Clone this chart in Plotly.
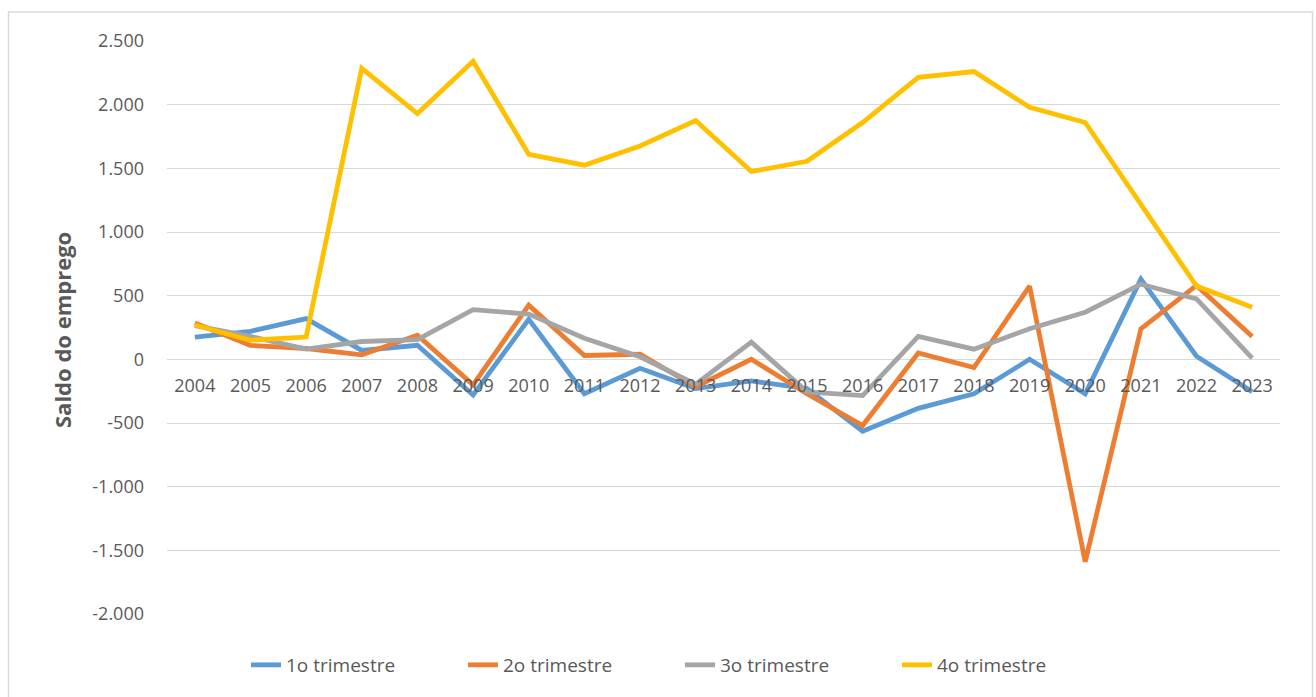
import plotly.graph_objects as go

years = [str(y) for y in range(2004, 2024)]
tri1 = [175, 220, 320, 70, 110, -280, 315, -270, -70, -230, -170, -230, -565, -385, -270, 0, -270, 630, 25, -255]
tri2 = [285, 110, 85, 35, 190, -200, 425, 30, 40, -215, 0, -270, -520, 50, -65, 575, -1590, 240, 580, 180]
tri3 = [265, 180, 80, 140, 155, 390, 355, 165, 20, -195, 135, -255, -285, 180, 80, 240, 370, 590, 475, 10]
tri4 = [270, 150, 175, 2285, 1930, 2340, 1610, 1525, 1675, 1875, 1475, 1555, 1860, 2215, 2260, 1980, 1860, 1220, 575, 410]
series_names = ["1o trimestre", "2o trimestre", "3o trimestre", "4o trimestre"]
colors = ["#5B9BD5", "#ED7D31", "#A5A5A5", "#FFC000"]
ytick_vals = [2500, 2000, 1500, 1000, 500, 0, -500, -1000, -1500, -2000]
ytick_text = ["2.500", "2.000", "1.500", "1.000", "500", "0", "-500", "-1.000", "-1.500", "-2.000"]
y_title = "Saldo do emprego"

FONT = "Open Sans"
fig = go.Figure()
for name, vals, c in zip(series_names, [tri1, tri2, tri3, tri4], colors):
    fig.add_trace(go.Scatter(x=years, y=vals, mode="lines", name=name,
                             line=dict(color=c, width=4.8)))

OFF = 0  # body margin removed via post_script
W, H = 1316, 697
# plot area in screen coords: x 167..1280, y 41..614
L = 167 - OFF
T = 41 - OFF
R = W - (1280 - OFF)
B = H - (614 - OFF)
pw, ph = W - L - R, H - T - B

def px(x):
    return (x - OFF - L) / pw

def py(y):
    return (H - B - (y - OFF)) / ph

fig.update_layout(
    width=W, height=H,
    margin=dict(l=L, r=R, t=T, b=B, autoexpand=False),
    paper_bgcolor="white", plot_bgcolor="white",
    font=dict(family=FONT, color="#595959", size=18),
    showlegend=True,
    legend=dict(orientation="h", x=px(246), xanchor="left", y=py(665), yanchor="middle",
                font=dict(size=19, color="#595959"), itemwidth=30, tracegroupgap=0,
                entrywidth=172, entrywidthmode="pixels"),
    xaxis=dict(type="category", range=[-0.5, 19.5], showgrid=False, zeroline=False,
               showline=False, ticks="", anchor="free", position=py(359),
               ticklabelstandoff=14,
               automargin=False, tickfont=dict(size=18, color="#595959")),
    yaxis=dict(range=[-2000, 2500], tickvals=ytick_vals, ticktext=ytick_text,
               showgrid=True, gridcolor="#D9D9D9", gridwidth=1, zeroline=False,
               showline=False, ticks="", ticklabelstandoff=22, automargin=False,
               tickfont=dict(size=18, color="#595959")),
    annotations=[dict(text="<b>" + y_title + "</b>", textangle=-90, x=px(62), y=py(330),
                      xanchor="center", yanchor="middle",
                      xref="paper", yref="paper", showarrow=False,
                      font=dict(size=22, color="#595959", family=FONT))],
    shapes=[dict(type="rect", xref="paper", yref="paper", x0=px(8.5), x1=px(1312.5),
                 y0=py(720), y1=py(12), line=dict(color="#D9D9D9", width=1.5),
                 fillcolor="rgba(0,0,0,0)", layer="below")],
)
fig.write_html("out.html", config={"displayModeBar": False},
               post_script="document.body.style.margin='0';document.body.style.overflow='hidden';")
